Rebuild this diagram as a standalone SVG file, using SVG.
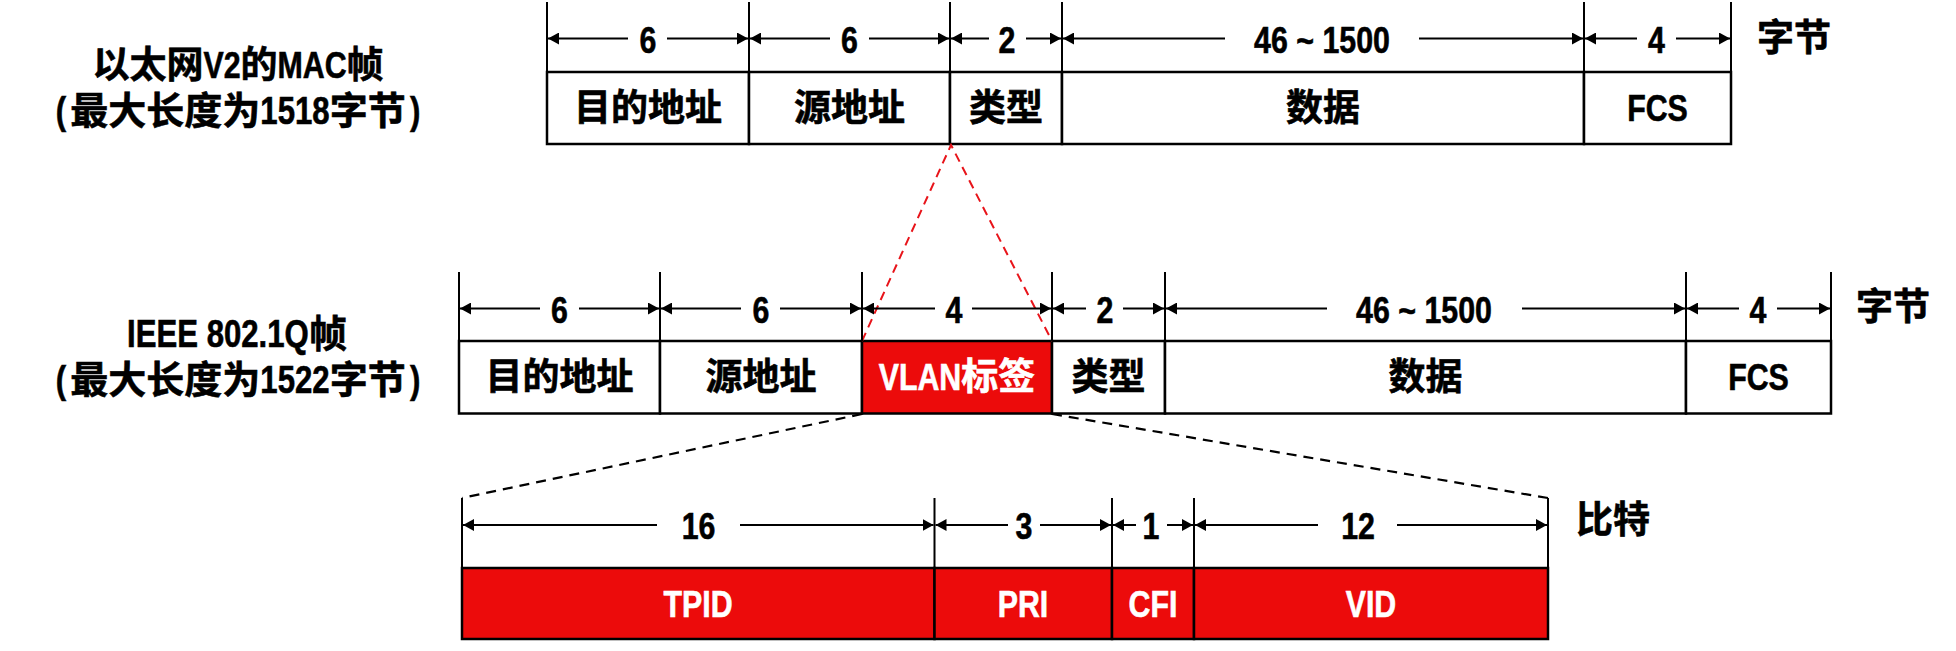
<svg xmlns="http://www.w3.org/2000/svg" width="1956" height="651" viewBox="0 0 1956 651">
<style>
.bg{fill:#ffffff}
.cell{fill:#ffffff;stroke:#000;stroke-width:2.5}
.red{fill:#ec0b0b;stroke:#000;stroke-width:2.5}
.ext{stroke:#000;stroke-width:2;fill:none}
.dim{stroke:#000;stroke-width:2;fill:none}
.dashr{stroke:#e8141a;stroke-width:2;stroke-dasharray:9 6;fill:none}
.dashk{stroke:#000;stroke-width:2.2;stroke-dasharray:10 7;fill:none}
text{font-family:"Liberation Sans","Noto Sans CJK SC",sans-serif;font-weight:bold;text-anchor:middle;dominant-baseline:central;fill:#000;stroke:#000;stroke-width:0.6}
.s{text-anchor:start}
.lab{font-size:37px}
.num{font-size:37px}
.ttl{font-size:38px}
.ttl1{font-size:37px}
.unit{font-size:37px}
.w{fill:#fff;stroke:#fff}
</style>
<defs>
<marker id="ah" viewBox="0 0 11 12" markerWidth="11" markerHeight="12" refX="11" refY="6" orient="auto-start-reverse" markerUnits="userSpaceOnUse">
<path d="M0,0 L11,6 L0,12 z" fill="#000"/>
</marker>
</defs>
<rect class="bg" x="0" y="0" width="1956" height="651"/>

<g id="title-v2">
<text class="ttl1 s" x="92.4" y="65">以太网</text>
<text class="ttl1 s" transform="translate(203.4 65) scale(0.82 1)">V2</text>
<text class="ttl1 s" x="240.5" y="65">的</text>
<text class="ttl1 s" transform="translate(277.5 65) scale(0.82 1)">MAC</text>
<text class="ttl1 s" x="346.6" y="65">帧</text>
<text class="ttl" transform="translate(60.85 111) scale(0.82 1)">(</text>
<text class="ttl s" x="70.35" y="111">最大长度为</text>
<text class="ttl s" transform="translate(260.35 111) scale(0.82 1)">1518</text>
<text class="ttl s" x="329.65" y="111">字节</text>
<text class="ttl" transform="translate(415.15 111) scale(0.82 1)">)</text>
</g>
<g id="title-8021q">
<text class="ttl s" transform="translate(127 334) scale(0.82 1)">IEEE 802.1Q</text>
<text class="ttl s" x="308.9" y="334">帧</text>
<text class="ttl" transform="translate(60.85 380) scale(0.82 1)">(</text>
<text class="ttl s" x="70.35" y="380">最大长度为</text>
<text class="ttl s" transform="translate(260.35 380) scale(0.82 1)">1522</text>
<text class="ttl s" x="329.65" y="380">字节</text>
<text class="ttl" transform="translate(415.15 380) scale(0.82 1)">)</text>
</g>

<!-- Ethernet V2 frame -->
<g id="v2-dst"><rect class="cell" x="547" y="72" width="202" height="72"/><text class="lab" x="648" y="108">目的地址</text></g>
<g id="v2-src"><rect class="cell" x="749" y="72" width="201" height="72"/><text class="lab" x="849.5" y="108">源地址</text></g>
<g id="v2-type"><rect class="cell" x="950" y="72" width="112" height="72"/><text class="lab" x="1006" y="108">类型</text></g>
<g id="v2-data"><rect class="cell" x="1062" y="72" width="522" height="72"/><text class="lab" x="1323" y="108">数据</text></g>
<g id="v2-fcs"><rect class="cell" x="1584" y="72" width="147" height="72"/><text class="lab" transform="translate(1657.5 108) scale(0.82 1)">FCS</text></g>
<g id="v2-unit"><text class="unit" x="1794" y="38">字节</text></g>

<!-- 802.1Q frame -->
<g id="q-dst"><rect class="cell" x="459" y="341" width="201" height="72.5"/><text class="lab" x="559.5" y="377">目的地址</text></g>
<g id="q-src"><rect class="cell" x="660" y="341" width="202" height="72.5"/><text class="lab" x="761" y="377">源地址</text></g>
<g id="q-vlan"><rect class="red" x="862" y="341" width="190" height="72.5"/><text class="lab w s" transform="translate(878.7 377) scale(0.82 1)">VLAN</text><text class="lab w s" x="961.3" y="377">标签</text></g>
<g id="q-type"><rect class="cell" x="1052" y="341" width="113" height="72.5"/><text class="lab" x="1108.5" y="377">类型</text></g>
<g id="q-data"><rect class="cell" x="1165" y="341" width="521" height="72.5"/><text class="lab" x="1425.5" y="377">数据</text></g>
<g id="q-fcs"><rect class="cell" x="1686" y="341" width="145" height="72.5"/><text class="lab" transform="translate(1758.5 377) scale(0.82 1)">FCS</text></g>
<g id="q-unit"><text class="unit" x="1893" y="307">字节</text></g>

<!-- VLAN tag -->
<g id="tag-tpid"><rect class="red" x="462" y="568" width="472.5" height="71"/><text class="lab w" transform="translate(698 604) scale(0.82 1)">TPID</text></g>
<g id="tag-pri"><rect class="red" x="934.5" y="568" width="177.5" height="71"/><text class="lab w" transform="translate(1023 604) scale(0.82 1)">PRI</text></g>
<g id="tag-cfi"><rect class="red" x="1112" y="568" width="82" height="71"/><text class="lab w" transform="translate(1153 604) scale(0.82 1)">CFI</text></g>
<g id="tag-vid"><rect class="red" x="1194" y="568" width="354" height="71"/><text class="lab w" transform="translate(1371 604) scale(0.82 1)">VID</text></g>
<g id="tag-unit"><text class="unit" x="1613" y="520">比特</text></g>

<g id="connectors">
<polyline class="dashr" points="862,341 951,145 1052,341"/>
<line class="dashk" x1="862" y1="414" x2="462" y2="498"/>
<line class="dashk" x1="1052" y1="414" x2="1548" y2="498"/>
</g>

<g id="dimensions">
<path class="ext" d="M547,2V72 M749,2V72 M950,2V72 M1062,2V72 M1584,2V72 M1731,2V72"/>
<path class="ext" d="M459,272V341 M660,272V341 M862,272V341 M1052,272V341 M1165,272V341 M1686,272V341 M1831,272V341"/>
<path class="ext" d="M462,498V568 M934.5,498V568 M1112,498V568 M1194,498V568 M1548,498V568"/>
<g class="dim">
<line x1="548" y1="38.5" x2="628" y2="38.5" marker-start="url(#ah)"/><line x1="667" y1="38.5" x2="748" y2="38.5" marker-end="url(#ah)"/>
<line x1="750" y1="38.5" x2="830" y2="38.5" marker-start="url(#ah)"/><line x1="869" y1="38.5" x2="949" y2="38.5" marker-end="url(#ah)"/>
<line x1="951" y1="38.5" x2="989" y2="38.5" marker-start="url(#ah)"/><line x1="1026" y1="38.5" x2="1061" y2="38.5" marker-end="url(#ah)"/>
<line x1="1063" y1="38.5" x2="1225" y2="38.5" marker-start="url(#ah)"/><line x1="1419" y1="38.5" x2="1583" y2="38.5" marker-end="url(#ah)"/>
<line x1="1585" y1="38.5" x2="1637" y2="38.5" marker-start="url(#ah)"/><line x1="1676" y1="38.5" x2="1730" y2="38.5" marker-end="url(#ah)"/>
</g>
<text class="num" transform="translate(648 40) scale(0.82 1)">6</text>
<text class="num" transform="translate(849.5 40) scale(0.82 1)">6</text>
<text class="num" transform="translate(1007 40) scale(0.82 1)">2</text>
<text class="num" transform="translate(1322 40) scale(0.82 1)">46 ~ 1500</text>
<text class="num" transform="translate(1656.5 40) scale(0.82 1)">4</text>
<g class="dim">
<line x1="460" y1="308.5" x2="540" y2="308.5" marker-start="url(#ah)"/><line x1="579" y1="308.5" x2="659" y2="308.5" marker-end="url(#ah)"/>
<line x1="661" y1="308.5" x2="741" y2="308.5" marker-start="url(#ah)"/><line x1="780" y1="308.5" x2="861" y2="308.5" marker-end="url(#ah)"/>
<line x1="863" y1="308.5" x2="935" y2="308.5" marker-start="url(#ah)"/><line x1="972" y1="308.5" x2="1051" y2="308.5" marker-end="url(#ah)"/>
<line x1="1053" y1="308.5" x2="1086" y2="308.5" marker-start="url(#ah)"/><line x1="1123" y1="308.5" x2="1164" y2="308.5" marker-end="url(#ah)"/>
<line x1="1166" y1="308.5" x2="1327" y2="308.5" marker-start="url(#ah)"/><line x1="1522" y1="308.5" x2="1685" y2="308.5" marker-end="url(#ah)"/>
<line x1="1687" y1="308.5" x2="1739" y2="308.5" marker-start="url(#ah)"/><line x1="1777" y1="308.5" x2="1830" y2="308.5" marker-end="url(#ah)"/>
</g>
<text class="num" transform="translate(559.5 310) scale(0.82 1)">6</text>
<text class="num" transform="translate(761 310) scale(0.82 1)">6</text>
<text class="num" transform="translate(954 310) scale(0.82 1)">4</text>
<text class="num" transform="translate(1105 310) scale(0.82 1)">2</text>
<text class="num" transform="translate(1424 310) scale(0.82 1)">46 ~ 1500</text>
<text class="num" transform="translate(1758 310) scale(0.82 1)">4</text>
<g class="dim">
<line x1="463" y1="525" x2="657" y2="525" marker-start="url(#ah)"/><line x1="740" y1="525" x2="933.5" y2="525" marker-end="url(#ah)"/>
<line x1="935.5" y1="525" x2="1008" y2="525" marker-start="url(#ah)"/><line x1="1040" y1="525" x2="1111" y2="525" marker-end="url(#ah)"/>
<line x1="1113" y1="525" x2="1136" y2="525" marker-start="url(#ah)"/><line x1="1167" y1="525" x2="1193" y2="525" marker-end="url(#ah)"/>
<line x1="1195" y1="525" x2="1318" y2="525" marker-start="url(#ah)"/><line x1="1397" y1="525" x2="1547" y2="525" marker-end="url(#ah)"/>
</g>
<text class="num" transform="translate(698.5 526) scale(0.82 1)">16</text>
<text class="num" transform="translate(1024 526) scale(0.82 1)">3</text>
<text class="num" transform="translate(1151 526) scale(0.82 1)">1</text>
<text class="num" transform="translate(1358 526) scale(0.82 1)">12</text>
</g>
</svg>
